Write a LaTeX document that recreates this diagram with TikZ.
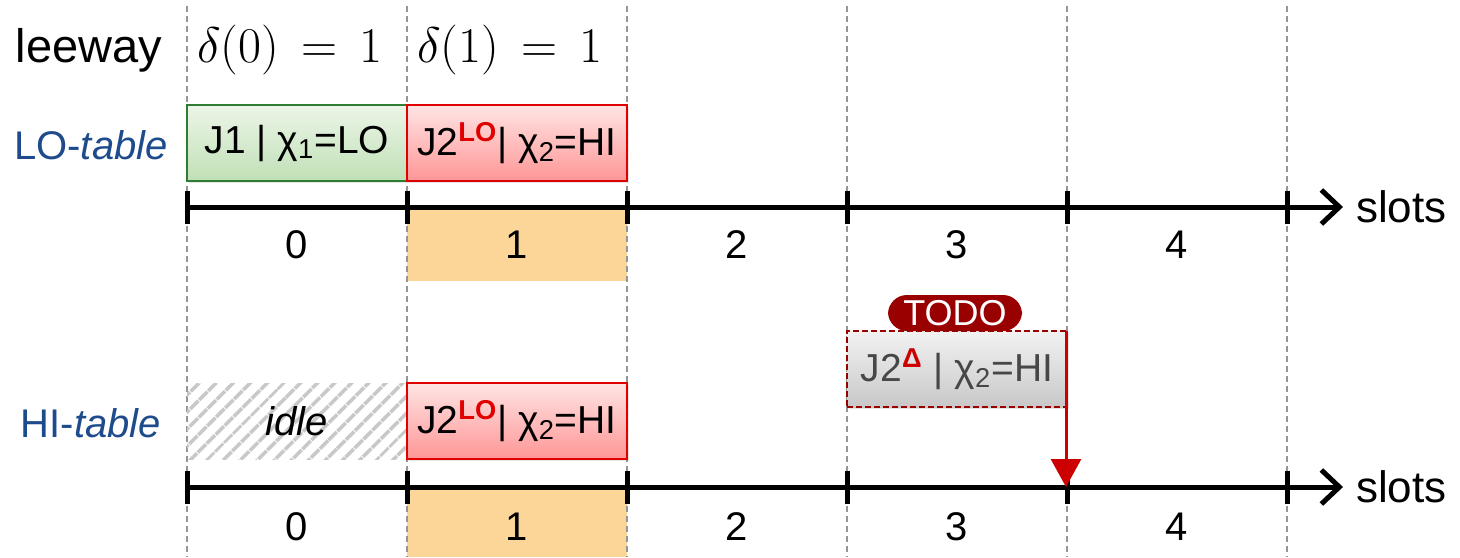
\RequirePackage{fix-cm}
\documentclass[tikz,border=0pt]{standalone}
\usepackage{fontspec}
\setmainfont{Liberation Sans}
\usetikzlibrary{arrows.meta,patterns.meta,shadows}
\definecolor{lblue}{RGB}{30,75,140}
\definecolor{greenB}{RGB}{46,125,50}
\definecolor{greenT}{RGB}{236,245,232}
\definecolor{greenL}{RGB}{192,224,182}
\definecolor{redB}{RGB}{225,0,0}
\definecolor{redT}{RGB}{255,228,228}
\definecolor{redL}{RGB}{255,150,150}
\definecolor{slotorange}{RGB}{252,213,153}
\definecolor{darkred}{RGB}{153,0,0}
\definecolor{arrowred}{RGB}{204,0,0}
\definecolor{grayT}{RGB}{242,242,242}
\definecolor{grayL}{RGB}{200,200,200}
\definecolor{guide}{RGB}{150,150,150}
\tikzset{
  guideline/.style={guide, dashed, line width=0.7pt, dash pattern=on 3pt off 2pt},
  axisline/.style={line width=2.5pt, -{Straight Barb[length=9pt,width=17pt,line width=2.5pt]}},
  tickmark/.style={line width=2.5pt},
  jobbox/.style={minimum width=110pt, minimum height=38pt, inner sep=0pt, outer sep=0pt,
    line width=1pt, font=\fontsize{19.5}{22}\selectfont,
    drop shadow={opacity=0.2, shadow xshift=1pt, shadow yshift=-1.2pt}},
  lobox/.style={jobbox, draw=greenB, top color=greenT, bottom color=greenL},
  hibox/.style={jobbox, draw=redB, top color=redT, bottom color=redL},
  todobox/.style={jobbox, draw=darkred, dashed, dash pattern=on 3pt off 1.5pt,
    top color=grayT, bottom color=grayL, text=black!72},
  idlebox/.style={minimum width=110pt, minimum height=38pt, inner sep=0pt, outer sep=0pt,
    pattern={Lines[angle=45,distance=6.5pt,line width=2pt]}, pattern color=grayL,
    font=\fontsize{20}{23}\selectfont\itshape},
  slotnum/.style={font=\fontsize{20}{23}\selectfont},
  slotlabel/.style={font=\fontsize{22}{25}\selectfont, anchor=west},
  tablelabel/.style={text=lblue, font=\fontsize{20}{23}\selectfont},
  leewaylabel/.style={font=\fontsize{25}{29}\selectfont},
}
\newcommand{\losup}{\textsuperscript{\textcolor{redB}{\bfseries LO}}}
\begin{document}
\begin{tikzpicture}[x=0.5pt,y=-0.5pt]
\useasboundingbox (0,0) rectangle (1460,557);
% orange slot highlights
\fill[slotorange] (407,207) rectangle (627,281);
\fill[slotorange] (407,487) rectangle (627,557);
% guides
\foreach \x in {187,407,627,847,1067,1287}
  \draw[guideline] (\x,6) -- (\x,557);
% header
\node (leeway) at (89,50) {\fontsize{23.5}{27}\selectfont leeway};
\node[leewaylabel] (d0) at (290,50) {$\delta(0)\,=\,1$};
\node[leewaylabel] (d1) at (510,50) {$\delta(1)\,=\,1$};
% LO table
\node[tablelabel] (lolabel) at (91,145) {LO-\textit{table}};
\node[lobox] (j1) at (297,143) {J1 | χ\textsubscript{1}=LO};
\node[hibox] (j2lo) at (517,143) {J2\losup| χ\textsubscript{2}=HI};
% axis 1
\coordinate (a1s) at (187,207);
\coordinate (a1e) at (1343,207);
\draw[axisline] (a1s) -- (a1e);
\foreach \x in {187,407,627,847,1067,1287}
  \draw[tickmark] (\x,191) -- (\x,224);
\node[slotlabel] (slots1) at (1349,207) {slots};
\foreach \i/\x in {0/297,1/517,2/737,3/957,4/1177}
  \node[slotnum] (n1\i) at (\x,245) {\i};
% HI table
\node[tablelabel] (hilabel) at (91,423) {HI-\textit{table}};
\node[idlebox] (idle) at (297,421) {idle};
\node[hibox] (j2hi) at (517,421) {J2\losup| χ\textsubscript{2}=HI};
% TODO job
\node[todobox] (jd) at (957,369) {J2\textsuperscript{\textcolor{arrowred}{\bfseries Δ}} | χ\textsubscript{2}=HI};
\node[fill=darkred, text=white, rounded corners=9.5pt, minimum width=67pt, minimum height=18pt,
  inner sep=0pt, font=\fontsize{18}{21}\selectfont] (todo) at (955,313) {TODO};
% axis 2
\coordinate (a2s) at (187,487);
\coordinate (a2e) at (1343,487);
\draw[axisline] (a2s) -- (a2e);
\foreach \x in {187,407,627,847,1067,1287}
  \draw[tickmark] (\x,471) -- (\x,504);
\coordinate (t24) at (1066,487);
\node[slotlabel] (slots2) at (1349,487) {slots};
\foreach \i/\x in {0/297,1/517,2/737,3/957,4/1177}
  \node[slotnum] (n2\i) at (\x,527) {\i};
% red arrow
\draw[arrowred, line width=1.5pt, -{Triangle[length=14pt,width=15pt]}] ([xshift=-0.5pt]jd.north east) -- (t24);
\end{tikzpicture}
\end{document}
